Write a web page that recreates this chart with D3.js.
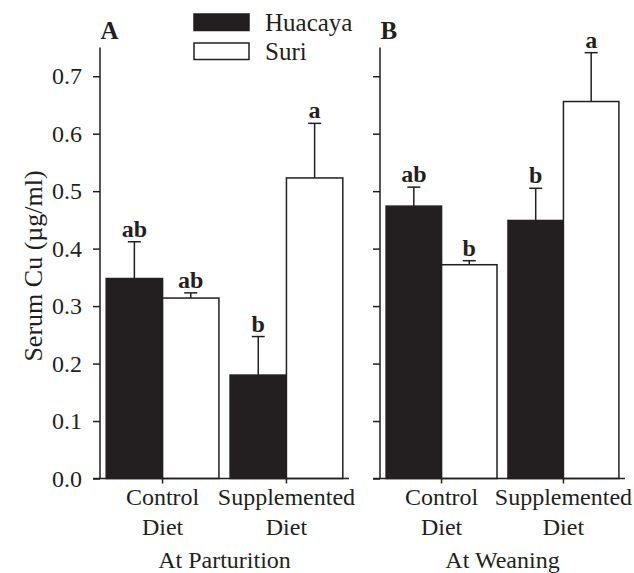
<!DOCTYPE html>
<html>
<head>
<meta charset="utf-8">
<script src="https://cdn.jsdelivr.net/npm/d3@7"></script>
<style>
  body { margin: 0; background: #fff; }
  text { font-family: "Liberation Serif", "Times New Roman", serif; fill: #231f20; }
</style>
</head>
<body>
<div id="chart"></div>
<script>
// values (means and SE, order: control, supplemented)
const diets = ["Control", "Supplemented"];
const breeds = ["Huacaya", "Suri"];
const periods = ["At Parturition", "At Weaning"];
const yTicks = [0, 0.1, 0.2, 0.3, 0.4, 0.5, 0.6, 0.7];

const huacayaMeanA = [0.348, 0.180];
const huacayaSeA = [0.064, 0.067];
const suriMeanA = [0.314, 0.523];
const suriSeA = [0.009, 0.095];
const lettersHuacayaA = ["ab", "b"];
const lettersSuriA = ["ab", "a"];

const huacayaMeanB = [0.474, 0.449];
const huacayaSeB = [0.033, 0.056];
const suriMeanB = [0.372, 0.656];
const suriSeB = [0.007, 0.085];
const lettersHuacayaB = ["ab", "b"];
const lettersSuriB = ["b", "a"];

const ink = "#231f20";
const width = 634, height = 573;
const fs = 24;

const svg = d3.select("#chart")
    .append("svg")
    .attr("width", width)
    .attr("height", height);

const y = d3.scaleLinear()
    .domain([0, 0.75])
    .range([478.5, 47.5]);

const panels = [
    {name: "A", period: periods[0], range: [100, 349], labels: true,
     h: huacayaMeanA, hs: huacayaSeA, s: suriMeanA, ss: suriSeA, hl: lettersHuacayaA, sl: lettersSuriA},
    {name: "B", period: periods[1], range: [380, 625], labels: false,
     h: huacayaMeanB, hs: huacayaSeB, s: suriMeanB, ss: suriSeB, hl: lettersHuacayaB, sl: lettersSuriB}
];

panels.forEach(function (p) {
    const x = d3.scaleBand()
        .domain(diets)
        .range(p.range)
        .paddingInner(0.09)
        .paddingOuter(0.05);

    const xb = d3.scaleBand()
        .domain(breeds)
        .range([0, x.bandwidth()]);

    const g = svg.append("g");

    // bars
    const rows = [];
    diets.forEach(function (d, i) {
        rows.push({diet: d, breed: "Huacaya", v: p.h[i], se: p.hs[i], lab: p.hl[i]});
        rows.push({diet: d, breed: "Suri", v: p.s[i], se: p.ss[i], lab: p.sl[i]});
    });

    g.selectAll(".bar")
        .data(rows)
        .enter().append("rect")
        .attr("class", "bar")
        .attr("x", d => x(d.diet) + xb(d.breed))
        .attr("y", d => y(d.v))
        .attr("width", xb.bandwidth())
        .attr("height", d => y(0) - y(d.v))
        .attr("fill", d => d.breed === "Huacaya" ? ink : "#fff")
        .attr("stroke", ink)
        .attr("stroke-width", 1.5);

    // error bars
    const cx = d => x(d.diet) + xb(d.breed) + xb.bandwidth() / 2;
    g.selectAll(".err")
        .data(rows)
        .enter().append("line")
        .attr("x1", cx).attr("x2", cx)
        .attr("y1", d => y(d.v)).attr("y2", d => y(d.v + d.se))
        .attr("stroke", ink).attr("stroke-width", 1.5);
    g.selectAll(".cap")
        .data(rows)
        .enter().append("line")
        .attr("x1", d => cx(d) - 6.5).attr("x2", d => cx(d) + 6.5)
        .attr("y1", d => y(d.v + d.se)).attr("y2", d => y(d.v + d.se))
        .attr("stroke", ink).attr("stroke-width", 1.5);

    // significance letters
    g.selectAll(".sig")
        .data(rows)
        .enter().append("text")
        .attr("x", cx)
        .attr("y", d => y(d.v + d.se) - 5)
        .attr("text-anchor", "middle")
        .attr("font-weight", "bold")
        .attr("font-size", 24)
        .text(d => d.lab);

    // y axis
    const ya = g.append("g")
        .attr("transform", "translate(" + p.range[0] + ",0)")
        .call(d3.axisLeft(y).tickValues(yTicks).tickSize(7).tickSizeOuter(0)
            .tickPadding(11)
            .tickFormat(p.labels ? d3.format(".1f") : ""));
    ya.select(".domain").remove();
    ya.selectAll("line").attr("stroke", ink).attr("stroke-width", 1.5);
    ya.selectAll("text").attr("font-size", fs).style("font-family", "Liberation Serif").attr("fill", ink);
    g.append("line")
        .attr("x1", p.range[0]).attr("x2", p.range[0])
        .attr("y1", y(0)).attr("y2", y.range()[1])
        .attr("stroke", ink).attr("stroke-width", 1.5);

    // x axis
    const xa = g.append("g")
        .attr("transform", "translate(0," + y(0) + ")")
        .call(d3.axisBottom(x).tickSize(5).tickSizeOuter(0).tickFormat(""));
    xa.select(".domain").remove();
    xa.selectAll("line").attr("stroke", ink).attr("stroke-width", 1.5);
    g.append("line")
        .attr("x1", p.range[0] - 7).attr("x2", p.range[1])
        .attr("y1", y(0)).attr("y2", y(0))
        .attr("stroke", ink).attr("stroke-width", 1.5);

    // category labels
    const cat = g.selectAll(".cat")
        .data(diets)
        .enter().append("text")
        .attr("text-anchor", "middle")
        .attr("font-size", fs);
    cat.append("tspan")
        .attr("x", d => x(d) + x.bandwidth() / 2)
        .attr("y", 505)
        .text(d => d);
    cat.append("tspan")
        .attr("x", d => x(d) + x.bandwidth() / 2)
        .attr("y", 535)
        .text("Diet");

    g.append("text")
        .attr("x", (p.range[0] + p.range[1]) / 2)
        .attr("y", 568)
        .attr("text-anchor", "middle")
        .attr("font-size", fs)
        .text(p.period);

    g.append("text")
        .attr("x", p.range[0] + 0.5)
        .attr("y", 39)
        .attr("font-weight", "bold")
        .attr("font-size", 25)
        .text(p.name);
});

// y label
svg.append("text")
    .attr("transform", "translate(42,266) rotate(-90)")
    .attr("text-anchor", "middle")
    .attr("font-size", 26)
    .text("Serum Cu (µg/ml)");

// legend
const legend = svg.append("g").selectAll("g")
    .data(breeds)
    .enter().append("g")
    .attr("transform", (d, i) => "translate(194," + (14 + i * 29) + ")");
legend.append("rect")
    .attr("width", 55)
    .attr("height", 16.5)
    .attr("fill", d => d === "Huacaya" ? ink : "#fff")
    .attr("stroke", ink)
    .attr("stroke-width", 1.5);
legend.append("text")
    .attr("x", 71)
    .attr("y", 17)
    .attr("font-size", 25)
    .text(d => d);
</script>
</body>
</html>
